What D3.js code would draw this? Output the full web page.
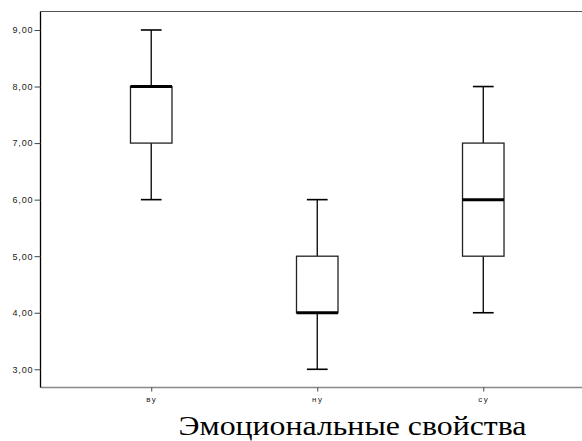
<!DOCTYPE html>
<html>
<head>
<meta charset="utf-8">
<script src="https://cdn.jsdelivr.net/npm/d3@7"></script>
<style>
  html, body { margin: 0; padding: 0; background: #fff; }
  svg { display: block; }
  .title { font-family: "Liberation Serif", "Times New Roman", Times, serif; }
</style>
</head>
<body>
<svg id="chart" width="582" height="441"></svg>
<script>
// Box plot summaries per group
const categories = ["ву", "ну", "су"];
const minValues    = [6, 3, 4];
const q1Values     = [7, 4, 5];
const medianValues = [8, 4, 6];
const q3Values     = [8, 5, 7];
const maxValues    = [9, 6, 8];
const yTickValues  = [3, 4, 5, 6, 7, 8, 9];
const xTitle = "Эмоциональные свойства";

const W = 582, H = 441;
const plot = { left: 40.5, top: 11.5, right: 594, bottom: 387.5 };

const svg = d3.select("#chart");

const x = d3.scalePoint()
  .domain(categories)
  .range([plot.left, plot.right])
  .padding(0.667);

const y = d3.scaleLinear()
  .domain([2.678, 9.327])
  .range([plot.bottom, plot.top]);

const step = x.step();
const boxW = step * 0.25;
const capW = step * 0.125;

// frame: top line and bottom axis line (gray), left axis (black)
svg.append("line")
  .attr("x1", plot.left).attr("x2", W)
  .attr("y1", plot.top).attr("y2", plot.top)
  .attr("stroke", "#555").attr("stroke-width", 1.2);
svg.append("line")
  .attr("x1", plot.left).attr("x2", W)
  .attr("y1", plot.bottom).attr("y2", plot.bottom)
  .attr("stroke", "#888").attr("stroke-width", 1.6);

// y axis
const yAxis = d3.axisLeft(y)
  .tickValues(yTickValues)
  .tickSize(6)
  .tickPadding(1)
  .tickFormat(d => d3.format(".2f")(d).replace(".", ","));
const gy = svg.append("g")
  .attr("transform", `translate(${plot.left},0)`)
  .call(yAxis);
gy.select(".domain")
  .attr("d", `M0,${plot.top}V${plot.bottom}`)
  .attr("stroke", "#000").attr("stroke-width", 1.3);
gy.selectAll(".tick line").attr("stroke", "#444").attr("stroke-width", 1);
gy.selectAll(".tick text")
  .attr("fill", "#222")
  .style("font-family", "Arial, 'Liberation Sans', sans-serif")
  .style("font-size", "9px")
  .style("letter-spacing", "0.9px");

// x axis
const xAxis = d3.axisBottom(x).tickSize(4).tickPadding(5);
const gx = svg.append("g")
  .attr("transform", `translate(0,${plot.bottom})`)
  .call(xAxis);
gx.select(".domain").remove();
gx.selectAll(".tick line").attr("stroke", "#444").attr("stroke-width", 1);
gx.selectAll(".tick text")
  .attr("fill", "#222")
  .style("font-family", "Arial, 'Liberation Sans', sans-serif")
  .style("font-size", "8px")
  .style("letter-spacing", "1.5px");

// boxes
const data = categories.map((c, i) => ({
  c, min: minValues[i], q1: q1Values[i], med: medianValues[i], q3: q3Values[i], max: maxValues[i]
}));

const g = svg.append("g").attr("class", "boxes");
const grp = g.selectAll("g.box").data(data).join("g").attr("class", "box");

// whiskers
grp.append("line")
  .attr("x1", d => x(d.c)).attr("x2", d => x(d.c))
  .attr("y1", d => y(d.max)).attr("y2", d => y(d.q3))
  .attr("stroke", "#000").attr("stroke-width", 1.3);
grp.append("line")
  .attr("x1", d => x(d.c)).attr("x2", d => x(d.c))
  .attr("y1", d => y(d.q1)).attr("y2", d => y(d.min))
  .attr("stroke", "#000").attr("stroke-width", 1.3);
// caps
grp.append("line")
  .attr("x1", d => x(d.c) - capW / 2).attr("x2", d => x(d.c) + capW / 2)
  .attr("y1", d => y(d.max)).attr("y2", d => y(d.max))
  .attr("stroke", "#000").attr("stroke-width", 1.6);
grp.append("line")
  .attr("x1", d => x(d.c) - capW / 2).attr("x2", d => x(d.c) + capW / 2)
  .attr("y1", d => y(d.min)).attr("y2", d => y(d.min))
  .attr("stroke", "#000").attr("stroke-width", 1.6);
// box
grp.append("rect")
  .attr("x", d => x(d.c) - boxW / 2)
  .attr("width", boxW)
  .attr("y", d => y(d.q3))
  .attr("height", d => y(d.q1) - y(d.q3))
  .attr("fill", "#fff")
  .attr("stroke", "#222").attr("stroke-width", 1.3);
// median
grp.append("line")
  .attr("x1", d => x(d.c) - boxW / 2).attr("x2", d => x(d.c) + boxW / 2)
  .attr("y1", d => y(d.med)).attr("y2", d => y(d.med))
  .attr("stroke", "#000").attr("stroke-width", 3);

// axis title
svg.append("text")
  .attr("class", "title")
  .attr("x", 352.5)
  .attr("y", 435)
  .attr("text-anchor", "middle")
  .attr("fill", "#000")
  .attr("font-size", 28)
  .attr("textLength", 348)
  .attr("lengthAdjust", "spacingAndGlyphs")
  .text(xTitle);
</script>
</body>
</html>
